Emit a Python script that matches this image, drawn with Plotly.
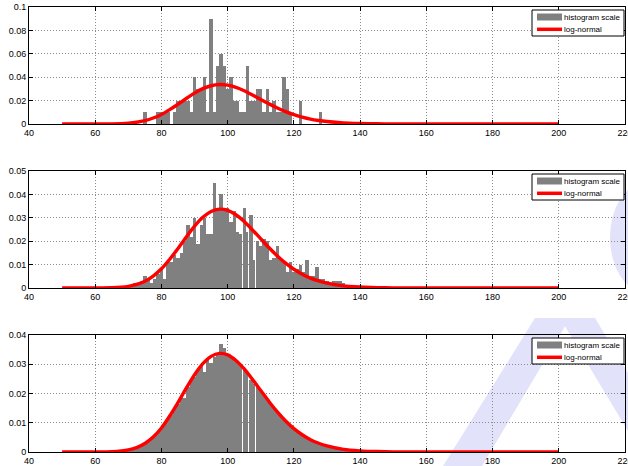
import plotly.graph_objects as go
from plotly.subplots import make_subplots

# ---------------- data ----------------
# Panel 1 (N≈100), bin centers and normalized heights
bins1 = [75, 79, 80, 81, 82, 84, 85, 86, 87, 88, 89, 90, 91, 92, 93, 94, 95, 96, 97, 98, 99,
         100, 101, 102, 103, 104, 105, 106, 107, 108, 109, 110, 111, 112, 113, 114, 115, 116,
         117, 118, 119, 122, 128]
hist1 = [0.01, 0.01, 0.01, 0.01, 0.01, 0.01, 0.02, 0.02, 0.02, 0.02, 0.01, 0.04, 0.03, 0.03, 0.04,
         0.01, 0.09, 0.01, 0.05, 0.06, 0.05, 0.03, 0.04, 0.02, 0.02, 0.01, 0.01, 0.05, 0.02, 0.02,
         0.03, 0.03, 0.01, 0.03, 0.01, 0.02, 0.01, 0.01, 0.04, 0.03, 0.01, 0.02, 0.01]

# Panel 2 (N≈1000)
bins2 = list(range(70, 141)) + [168]
hist2 = [0.001, 0.001, 0.002, 0.002, 0.003, 0.005, 0.004, 0.002, 0.004, 0.006, 0.008, 0.004,
         0.011, 0.011, 0.014, 0.013, 0.015, 0.020, 0.027, 0.022, 0.030, 0.019, 0.027, 0.030,
         0.023, 0.023, 0.045, 0.034, 0.040, 0.034, 0.034, 0.028, 0.033, 0.024, 0.023, 0.034,
         0.024, 0.031, 0.012, 0.020, 0.018, 0.021, 0.020, 0.012, 0.013, 0.018, 0.013, 0.011,
         0.007, 0.011, 0.007, 0.008, 0.010, 0.007, 0.012, 0.005, 0.005, 0.009, 0.004, 0.004,
         0.003, 0.002, 0.003, 0.003, 0.003, 0.002, 0.001, 0.001, 0.001, 0.001, 0.001, 0.0005]

# Panel 3 (N≈10000)
bins3 = list(range(65, 146))
hist3 = [0.0001, 0.0002, 0.0002, 0.0004, 0.0005, 0.0007, 0.0009, 0.0013, 0.0017, 0.0022,
         0.0029, 0.0036, 0.0046, 0.0054, 0.0068, 0.0080, 0.0095, 0.0112, 0.0128, 0.0148,
         0.0165, 0.0186, 0.0185, 0.0222, 0.0245, 0.0258, 0.0281, 0.0295, 0.0275, 0.0318,
         0.0305, 0.0325, 0.0340, 0.0368, 0.0355, 0.0330, 0.0325, 0.0320, 0.0305, 0.0300,
         0.0280, 0.0268, 0.0245, 0.0232, 0.0228, 0.0210, 0.0196, 0.0178, 0.0165, 0.0150,
         0.0138, 0.0125, 0.0110, 0.0100, 0.0088, 0.0080, 0.0070, 0.0061, 0.0053, 0.0046,
         0.0041, 0.0035, 0.0030, 0.0026, 0.0023, 0.0020, 0.0017, 0.0014, 0.0012, 0.0010,
         0.0009, 0.0007, 0.0006, 0.0005, 0.0004, 0.0004, 0.0003, 0.0002, 0.0002, 0.0001, 0.0001]

# Fitted log-normal curve (same in all panels), read at sample points
curve_x = [50, 55, 60, 65, 70, 72.5, 75, 77.5, 80, 82.5, 85, 87.5, 90, 92.5, 95, 97.5, 100,
           102.5, 105, 107.5, 110, 112.5, 115, 117.5, 120, 122.5, 125, 127.5, 130, 135, 140,
           145, 150, 160, 170, 180, 190, 200]
curve_y = [0, 0, 0.00001, 0.0001, 0.0007, 0.0015, 0.0029, 0.0051, 0.0082, 0.0123, 0.0169,
           0.0218, 0.0264, 0.0302, 0.0327, 0.0337, 0.0332, 0.0313, 0.0284, 0.0248, 0.0210,
           0.0172, 0.0137, 0.0106, 0.0080, 0.0059, 0.0042, 0.0030, 0.0021, 0.0009, 0.0004,
           0.00015, 0.00005, 0, 0, 0, 0, 0]

x_ticks = [40, 60, 80, 100, 120, 140, 160, 180, 200, 220]
y_ranges = [(0, 0.1), (0, 0.05), (0, 0.04)]
y_dticks = [0.02, 0.01, 0.01]
legend_labels = ["histogram scale", "log-normal"]
# bins whose bar shows a thin white seam on its right side (rendering artefact in the original)
seam_bins = [104, 106, 108, 110]

# ---------------- figure ----------------
W, H = 628, 466
fig = make_subplots(rows=3, cols=1)

GRAY = "#808080"
RED = "#ff0000"
FONT = "Liberation Sans, Arial, sans-serif"
GRID = "#8c8c8c"


def px(x):
    return x / W


def py(y):
    return 1 - y / H


panels = [(bins1, hist1), (bins2, hist2), (bins3, hist3)]
for i, (bx, by) in enumerate(panels, start=1):
    seams = i > 1
    widths = [0.78 if (seams and b in seam_bins) else 1.0 for b in bx]
    fig.add_trace(go.Bar(x=bx, y=by, width=widths, offset=-0.5,
                         marker=dict(color=GRAY, line=dict(width=0)),
                         name=legend_labels[0], showlegend=False, hoverinfo="skip"), row=i, col=1)
    fig.add_trace(go.Scatter(x=curve_x, y=curve_y, mode="lines", name=legend_labels[1],
                             line=dict(color=RED, width=3.4, shape="spline", smoothing=0.6),
                             showlegend=False, hoverinfo="skip"), row=i, col=1)

# panel pixel boxes (top, bottom)
boxes = [(7, 124), (171, 288), (335, 452)]
x0, x1 = 29, 625
for i, (top, bot) in enumerate(boxes, start=1):
    xa = "xaxis" if i == 1 else f"xaxis{i}"
    ya = "yaxis" if i == 1 else f"yaxis{i}"
    common = dict(showline=True, linecolor="black", linewidth=1, mirror="ticks",
                  ticks="inside", ticklen=4, tickcolor="black", automargin=False,
                  showgrid=True, gridcolor=GRID, griddash="1px,2px", gridwidth=1,
                  zeroline=False, tickfont=dict(size=9, color="black", family=FONT))
    fig.layout[xa].update(domain=[px(x0), px(x1)], range=[40, 220], tickvals=x_ticks,
                          ticklabeloverflow="allow", **common)
    lo, hi = y_ranges[i - 1]
    fig.layout[ya].update(domain=[py(bot), py(top)], range=[lo, hi], dtick=y_dticks[i - 1],
                          tick0=0, ticklabeloverflow="allow", **common)

    # legend box (MATLAB style) drawn in paper space
    lt = top + 3
    fig.add_shape(type="rect", xref="paper", yref="paper", x0=px(532), x1=px(624),
                  y0=py(lt + 26), y1=py(lt), fillcolor="white", line=dict(color="black", width=1))
    fig.add_shape(type="rect", xref="paper", yref="paper", x0=px(537), x1=px(562),
                  y0=py(lt + 10.5), y1=py(lt + 3.5), fillcolor=GRAY, line=dict(width=0))
    fig.add_shape(type="line", xref="paper", yref="paper", x0=px(537), x1=px(562),
                  y0=py(lt + 19.3), y1=py(lt + 19.3), line=dict(color=RED, width=3.5))
    fig.add_annotation(xref="paper", yref="paper", x=px(561.5), y=py(lt + 7.3), text=legend_labels[0],
                       showarrow=False, xanchor="left", yanchor="middle",
                       font=dict(size=8, family=FONT, color="black"))
    fig.add_annotation(xref="paper", yref="paper", x=px(561.5), y=py(lt + 19.3), text=legend_labels[1],
                       showarrow=False, xanchor="left", yanchor="middle",
                       font=dict(size=8, family=FONT, color="black"))

# faint watermark in background
WM = "rgba(226,226,250,1)"
fig.add_shape(type="path", xref="paper", yref="paper", layer="below",
              path=f"M {px(443)} 0 L {px(482)} 0 L {px(570)} {py(318)} L {px(535)} {py(318)} Z",
              fillcolor=WM, line=dict(width=0))
fig.add_shape(type="path", xref="paper", yref="paper", layer="below",
              path=f"M {px(560)} {py(318)} L {px(595)} {py(318)} L {px(628)} {py(373)} "
                   f"L {px(628)} {py(431)} Z",
              fillcolor=WM, line=dict(width=0))
fig.add_shape(type="circle", xref="paper", yref="paper", layer="below",
              x0=px(610), x1=px(680), y0=py(292), y1=py(183),
              fillcolor=WM, line=dict(width=0))

fig.update_layout(template="none", width=W, height=H, margin=dict(l=0, r=0, t=0, b=0, autoexpand=False),
                  paper_bgcolor="white", plot_bgcolor="rgba(0,0,0,0)", showlegend=False,
                  bargap=0, barmode="overlay", font=dict(family=FONT, size=9, color="black"))

fig.write_html("out.html", config={"displayModeBar": False, "staticPlot": True},
               post_script="document.body.style.margin='0px';document.body.style.overflow='hidden';")
